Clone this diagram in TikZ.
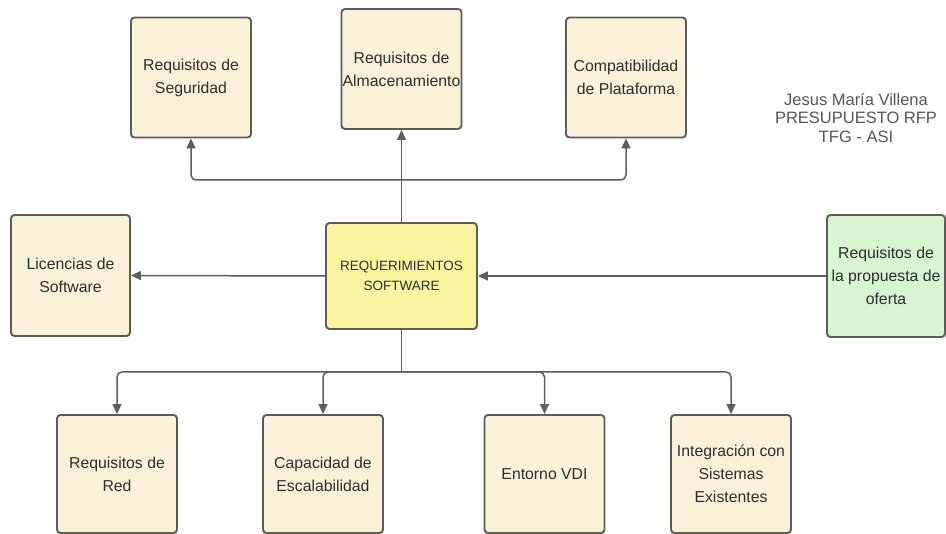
\documentclass[tikz,border=0pt]{standalone}
\usepackage{fontspec}
\setmainfont{Liberation Sans}
\usetikzlibrary{arrows.meta}
\definecolor{boxfill}{HTML}{FBF1D9}
\definecolor{mainfill}{HTML}{FBF4A0}
\definecolor{greenfill}{HTML}{D6F5D0}
\definecolor{edge}{HTML}{5C5C5C}
\definecolor{wire}{HTML}{5E5E5E}
\definecolor{ink}{HTML}{2E2E2E}
\definecolor{note}{HTML}{555555}
\tikzset{
  item/.style={draw=edge, line width=1.9pt, rounded corners=3.5pt, fill=boxfill,
    minimum width=120pt, minimum height=120pt, inner sep=0pt, align=center,
    text=ink, font=\fontsize{15.8}{23}\selectfont},
  core/.style={item, fill=mainfill, minimum width=151pt, minimum height=106pt,
    font=\fontsize{13.5}{20}\selectfont},
  source/.style={item, fill=greenfill, minimum width=118pt, minimum height=122pt},
  link/.style={draw=wire, line width=1.5pt, rounded corners=5pt},
  arr/.style={link, -{Triangle[length=10pt,width=9pt]}},
}
\begin{document}
\begin{tikzpicture}[x=1pt,y=-1pt]
\useasboundingbox (0,0) rectangle (946,534);

% top row
\node[item] (seg) at (191,77.5) {Requisitos de\\Seguridad};
\node[item] (alm) at (401.5,69) {Requisitos de\\Almacenamiento};
\node[item] (plat) at (626,77.5) {Compatibilidad\\de Plataforma};

% middle row
\node[item, minimum width=119pt, minimum height=121pt] (lic) at (70.5,275.5) {Licencias de\\Software};
\node[core] (sw) at (401.5,276) {REQUERIMIENTOS\\SOFTWARE};
\node[source] (rfp) at (886,276) {Requisitos de\\la propuesta de\\oferta};

% bottom row
\node[item, minimum height=118pt] (red) at (117,474) {Requisitos de\\Red};
\node[item, minimum height=118pt] (esc) at (323,474) {Capacidad de\\Escalabilidad};
\node[item, minimum height=118pt] (vdi) at (544.5,474) {Entorno VDI};
\node[item, minimum height=118pt] (int) at (731,474) {Integración con\\Sistemas\\Existentes};

% author note
\node[text=note, align=center, font=\fontsize{16.5}{18.5}\selectfont] (autor) at (856,118)
  {Jesus María Villena\\PRESUPUESTO RFP\\TFG - ASI};

% junctions
\coordinate (jt) at (401.5,180);
\coordinate (jb) at (401.5,372);

% upward fan
\draw[arr] (sw.north) -- (alm.south);
\draw[arr] (jt) -| (seg.south);
\draw[arr] (jt) -| (plat.south);

% sideways links
\draw[arr] (sw.west) -- (lic.east);
\draw[arr] (rfp.west) -- (sw.east);

% downward fan
\draw[link] (sw.south) -- (jb);
\draw[arr] (jb) -| (red.north);
\draw[arr] (jb) -| (esc.north);
\draw[arr] (jb) -| (vdi.north);
\draw[arr] (jb) -| (int.north);
\end{tikzpicture}
\end{document}
